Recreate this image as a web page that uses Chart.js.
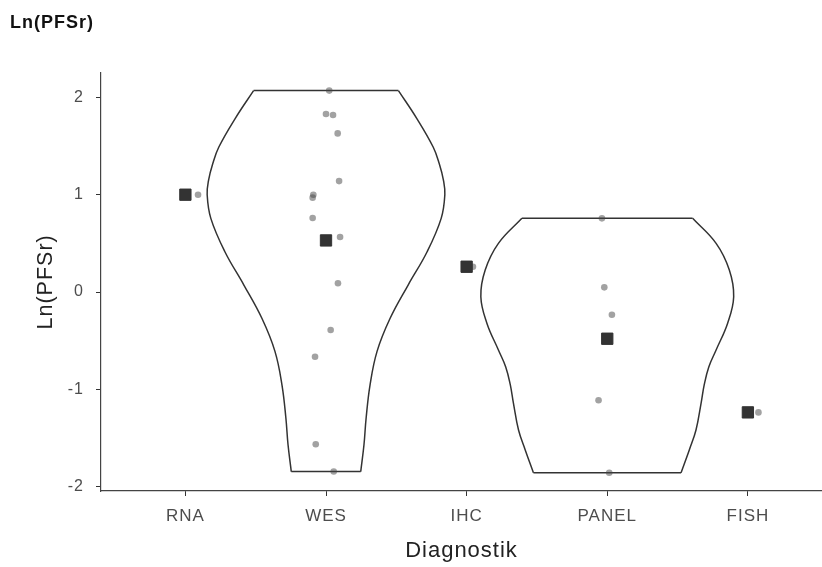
<!DOCTYPE html>
<html><head><meta charset="utf-8">
<script src="https://cdn.jsdelivr.net/npm/chart.js@4"></script>
<style>html,body{margin:0;padding:0;background:#fff;overflow:hidden}#wrap{width:822px;height:567px}</style>
</head><body><div id="wrap"><canvas id="c" width="822" height="567"></canvas></div>
<script>
const categories = ['RNA', 'WES', 'IHC', 'PANEL', 'FISH'];
const yTicks = [-2, -1, 0, 1, 2];

const rnaValues = [1.0];
const rnaJitter = [0.09];
const wesValues = [2.07, 1.83, 1.82, 1.63, 1.14, 1.00, 0.97, 0.76, 0.565, 0.09, -0.39, -0.665, -1.565, -1.845];
const wesJitter = [0.023, 0, 0.05, 0.083, 0.093, -0.09, -0.095, -0.095, 0.1, 0.085, 0.033, -0.078, -0.073, 0.055];
const ihcValues = [0.26];
const ihcJitter = [0.045];
const panelValues = [0.757, 0.048, -0.233, -1.113, -1.857];
const panelJitter = [-0.038, -0.021, 0.033, -0.062, 0.014];
const fishValues = [-1.237];
const fishJitter = [0.075];

const groupMeans = [1.0, 0.53, 0.26, -0.48, -1.237];

const wesViolinY = [2.07, 1.785, 1.49, 1.32, 1.15, 1.0, 0.757, 0.414, 0.072, -0.27, -0.61, -0.956, -1.3, -1.57, -1.845];
const wesViolinHalf = [0.515, 0.645, 0.762, 0.805, 0.835, 0.845, 0.819, 0.719, 0.584, 0.456, 0.363, 0.313, 0.285, 0.270, 0.247];
const panelViolinY = [0.757, 0.5, 0.226, -0.048, -0.32, -0.596, -0.77, -0.95, -1.144, -1.418, -1.62, -1.857];
const panelViolinHalf = [0.607, 0.774, 0.868, 0.899, 0.856, 0.774, 0.722, 0.69, 0.667, 0.631, 0.584, 0.525];

const FAMILY = '"Liberation Sans", Arial, Helvetica, sans-serif';

const groups = [
  [rnaValues, rnaJitter], [wesValues, wesJitter], [ihcValues, ihcJitter],
  [panelValues, panelJitter], [fishValues, fishJitter]
];
const pointData = [];
groups.forEach(([vals, jit], i) => {
  vals.forEach((v, k) => pointData.push({x: i + 1 + jit[k], y: v}));
});

function violinSets(center, ys, half) {
  const right = ys.map((y, i) => ({x: center + half[i], y}));
  const left = ys.map((y, i) => ({x: center - half[i], y}));
  const n = ys.length - 1;
  const caps = [
    {x: center - half[0], y: ys[0]}, {x: center + half[0], y: ys[0]},
    {x: center, y: null},
    {x: center - half[n], y: ys[n]}, {x: center + half[n], y: ys[n]}
  ];
  const base = {pointRadius: 0, borderColor: '#333', borderWidth: 1.5, fill: false};
  const side = {type: 'line', indexAxis: 'y', tension: 0.4};
  return [
    Object.assign({data: right}, side, base),
    Object.assign({data: left}, side, base),
    Object.assign({data: caps, showLine: true, tension: 0, spanGaps: false}, base)
  ];
}

const datasets = [
  {data: groupMeans.map((m, i) => ({x: i + 1, y: m})), pointStyle: 'rect', pointRadius: 8,
   backgroundColor: '#333', borderColor: '#333', borderWidth: 1},
  {data: pointData, pointRadius: 3.3, backgroundColor: 'rgba(70,70,70,0.5)', borderColor: 'rgba(0,0,0,0)', borderWidth: 0},
  ...violinSets(2, wesViolinY, wesViolinHalf),
  ...violinSets(4, panelViolinY, panelViolinHalf)
];

const spacingPlugin = {
  id: 'spacing',
  beforeLayout(chart) { chart.ctx.letterSpacing = '1px'; },
  beforeDraw(chart) { chart.ctx.letterSpacing = '1px'; }
};

function noPad(s) { s.paddingLeft = 0; s.paddingRight = 0; s.paddingTop = 0; s.paddingBottom = 0; }

new Chart(document.getElementById('c'), {
  type: 'scatter',
  data: {datasets},
  plugins: [spacingPlugin],
  options: {
    responsive: false,
    animation: false,
    events: [],
    devicePixelRatio: 1,
    layout: {autoPadding: false, padding: {left: 10, top: 0, right: 0, bottom: 0}},
    plugins: {
      legend: {display: false},
      tooltip: {enabled: false},
      title: {display: true, text: 'Ln(PFSr)', align: 'start', color: '#111',
              font: {family: FAMILY, size: 18, weight: 'bold'},
              padding: {top: 12, bottom: 39.1}}
    },
    scales: {
      x: {
        type: 'linear', min: 0.4, max: 5.527,
        afterBuildTicks: s => { s.ticks = categories.map((_, i) => ({value: i + 1})); },
        afterFit: s => { s.height = 76; noPad(s); },
        ticks: {callback: (v, i) => categories[i], font: {family: FAMILY, size: 17}, color: '#4d4d4d',
                padding: 10, maxRotation: 0, autoSkip: false},
        grid: {drawOnChartArea: false, drawTicks: true, tickLength: 5, color: '#333', lineWidth: 1},
        border: {display: true, color: '#444', width: 1.2},
        title: {display: true, text: 'Diagnostik', color: '#222', font: {family: FAMILY, size: 22},
                padding: {top: 0, bottom: 3}}
      },
      y: {
        type: 'linear', min: -2.045, max: 2.254,
        afterBuildTicks: s => { s.ticks = yTicks.map(v => ({value: v})); },
        afterFit: s => { s.width = 91; noPad(s); },
        ticks: {font: {family: FAMILY, size: 16}, color: '#4d4d4d', padding: 12},
        grid: {drawOnChartArea: false, drawTicks: true, tickLength: 5, color: '#333', lineWidth: 1},
        border: {display: true, color: '#444', width: 1.2},
        title: {display: true, text: 'Ln(PFSr)', color: '#222', font: {family: FAMILY, size: 21.5},
                padding: {top: 23, bottom: 0}}
      }
    }
  }
});
</script></body></html>
